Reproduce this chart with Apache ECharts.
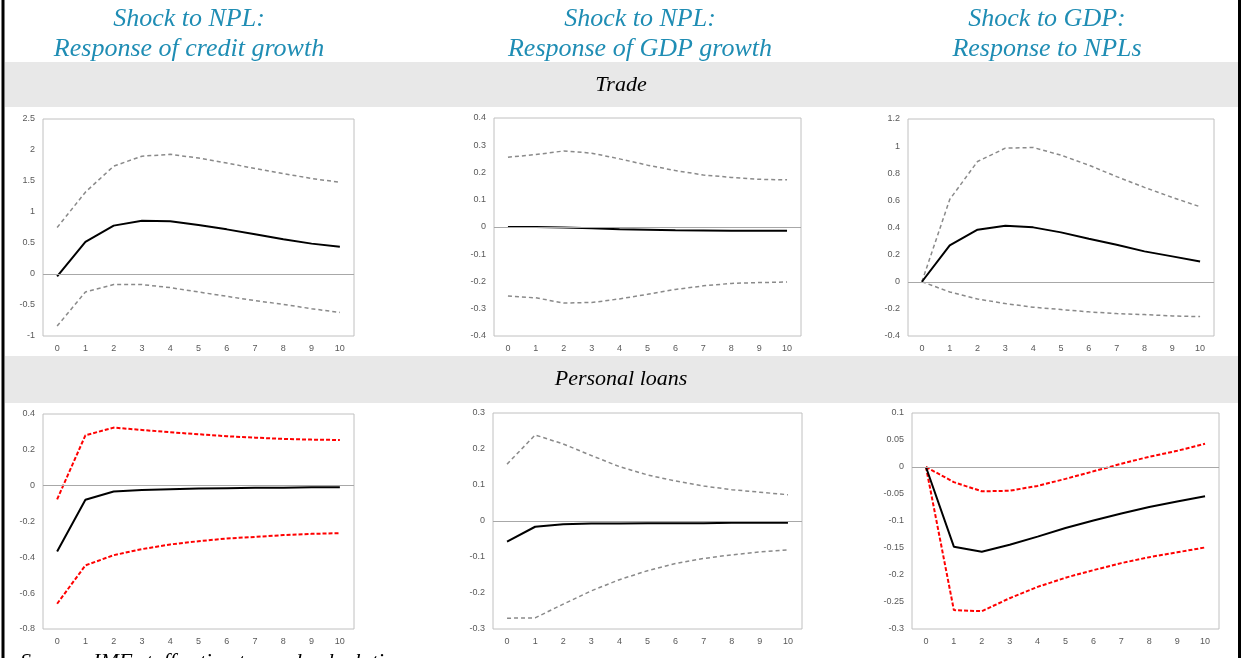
<!DOCTYPE html>
<html>
<head>
<meta charset="utf-8">
<title>Impulse responses: NPLs, credit and GDP</title>
<script src="https://cdn.jsdelivr.net/npm/echarts@6/dist/echarts.min.js"></script>
<style>
  html, body { margin: 0; padding: 0; background: #ffffff; }
  #chart { width: 1241px; height: 658px; }
</style>
</head>
<body>
<div id="chart"></div>
<script>
// Horizon (periods after the shock)
const horizon = ['0', '1', '2', '3', '4', '5', '6', '7', '8', '9', '10'];

// Column and row headings
const columnTitles = [
  ['Shock to NPL:', 'Response of credit growth'],
  ['Shock to NPL:', 'Response of GDP growth'],
  ['Shock to GDP:', 'Response to NPLs']
];
const rowTitles = ['Trade', 'Personal loans'];
const sourceNote = 'Source: IMF staff estimates and calculations.';

// Trade — shock to NPL, response of credit growth
const tradeCreditMid = [-0.04, 0.52, 0.78, 0.86, 0.85, 0.79, 0.72, 0.64, 0.56, 0.49, 0.44];
const tradeCreditUp  = [0.75, 1.32, 1.74, 1.90, 1.93, 1.87, 1.79, 1.70, 1.62, 1.54, 1.48];
const tradeCreditLo  = [-0.84, -0.29, -0.17, -0.17, -0.22, -0.29, -0.36, -0.43, -0.49, -0.56, -0.62];

// Trade — shock to NPL, response of GDP growth
const tradeGdpMid = [0.0, 0.0, -0.002, -0.005, -0.008, -0.010, -0.012, -0.013, -0.014, -0.014, -0.014];
const tradeGdpUp  = [0.256, 0.266, 0.279, 0.271, 0.250, 0.227, 0.207, 0.191, 0.182, 0.175, 0.173];
const tradeGdpLo  = [-0.253, -0.260, -0.279, -0.277, -0.264, -0.247, -0.229, -0.216, -0.207, -0.204, -0.202];

// Trade — shock to GDP, response of NPLs
const tradeNplMid = [0.0, 0.268, 0.384, 0.413, 0.401, 0.364, 0.317, 0.273, 0.224, 0.187, 0.150];
const tradeNplUp  = [0.0, 0.607, 0.887, 0.985, 0.990, 0.933, 0.860, 0.775, 0.696, 0.622, 0.553];
const tradeNplLo  = [0.0, -0.075, -0.127, -0.161, -0.188, -0.205, -0.222, -0.235, -0.242, -0.252, -0.257];

// Personal loans — shock to NPL, response of credit growth
const personalCreditMid = [-0.367, -0.079, -0.033, -0.024, -0.020, -0.016, -0.014, -0.012, -0.011, -0.009, -0.009];
const personalCreditUp  = [-0.076, 0.281, 0.324, 0.311, 0.298, 0.287, 0.276, 0.268, 0.261, 0.257, 0.255];
const personalCreditLo  = [-0.659, -0.445, -0.388, -0.354, -0.328, -0.310, -0.295, -0.286, -0.276, -0.269, -0.265];

// Personal loans — shock to NPL, response of GDP growth
const personalGdpMid = [-0.057, -0.016, -0.009, -0.007, -0.007, -0.0065, -0.006, -0.006, -0.005, -0.005, -0.005];
const personalGdpUp  = [0.158, 0.239, 0.214, 0.182, 0.151, 0.128, 0.111, 0.097, 0.087, 0.080, 0.073];
const personalGdpLo  = [-0.270, -0.269, -0.231, -0.194, -0.163, -0.138, -0.118, -0.104, -0.094, -0.086, -0.080];

// Personal loans — shock to GDP, response of NPLs
const personalNplMid = [0.0, -0.1475, -0.157, -0.144, -0.129, -0.113, -0.099, -0.086, -0.074, -0.064, -0.054];
const personalNplUp  = [0.0, -0.028, -0.045, -0.044, -0.035, -0.022, -0.008, 0.006, 0.019, 0.030, 0.043];
const personalNplLo  = [0.0, -0.265, -0.267, -0.243, -0.222, -0.205, -0.191, -0.178, -0.167, -0.158, -0.149];

// Y-axis ranges: [min, max, interval]
const yRanges = [
  [-1, 2.5, 0.5],
  [-0.4, 0.4, 0.1],
  [-0.4, 1.2, 0.2],
  [-0.8, 0.4, 0.2],
  [-0.3, 0.3, 0.1],
  [-0.3, 0.1, 0.05]
];

// Panel contents: central estimate with upper/lower bands, and band colour
const panels = [
  { mid: tradeCreditMid, up: tradeCreditUp, lo: tradeCreditLo, band: 'gray' },
  { mid: tradeGdpMid, up: tradeGdpUp, lo: tradeGdpLo, band: 'gray' },
  { mid: tradeNplMid, up: tradeNplUp, lo: tradeNplLo, band: 'gray' },
  { mid: personalCreditMid, up: personalCreditUp, lo: personalCreditLo, band: 'red' },
  { mid: personalGdpMid, up: personalGdpUp, lo: personalGdpLo, band: 'gray' },
  { mid: personalNplMid, up: personalNplUp, lo: personalNplLo, band: 'red' }
];

// Plot areas
const gridBoxes = [
  { left: 43, top: 119, width: 311, height: 217 },
  { left: 494, top: 118, width: 307, height: 218 },
  { left: 908, top: 119, width: 306, height: 217 },
  { left: 43, top: 414, width: 311, height: 215 },
  { left: 493, top: 413, width: 309, height: 216 },
  { left: 912, top: 413, width: 307, height: 216 }
];

const axisFont = { fontFamily: 'Liberation Sans', fontSize: 9, color: '#595959' };
const bandStyles = {
  gray: { color: '#8a8a8a', width: 1.5, type: [4, 3] },
  red: { color: '#ff0000', width: 2, type: [4, 2] }
};

const grids = [], xAxes = [], yAxes = [], series = [];
panels.forEach((p, i) => {
  grids.push(Object.assign({ show: true, borderColor: '#c0c0c0', borderWidth: 1, backgroundColor: '#ffffff' }, gridBoxes[i]));
  xAxes.push({
    type: 'category', gridIndex: i, data: horizon, boundaryGap: true,
    axisLine: { show: false, onZero: false }, axisTick: { show: false },
    axisLabel: Object.assign({ margin: 8, interval: 0 }, axisFont),
    splitLine: { show: false }
  });
  const r = yRanges[i];
  yAxes.push({
    type: 'value', gridIndex: i, min: r[0], max: r[1], interval: r[2],
    axisLine: { show: false }, axisTick: { show: false },
    axisLabel: Object.assign({ margin: 8 }, axisFont),
    splitLine: { show: false }
  });
  const bs = bandStyles[p.band];
  series.push({
    type: 'line', xAxisIndex: i, yAxisIndex: i, data: p.up, symbol: 'none', silent: true,
    lineStyle: bs,
    markLine: {
      silent: true, symbol: ['none', 'none'], label: { show: false },
      lineStyle: { color: '#a8a8a8', width: 1, type: 'solid' },
      data: [{ yAxis: 0 }]
    },
    z: 2
  });
  series.push({
    type: 'line', xAxisIndex: i, yAxisIndex: i, data: p.lo, symbol: 'none', silent: true,
    lineStyle: bs, z: 3
  });
  series.push({
    type: 'line', xAxisIndex: i, yAxisIndex: i, data: p.mid, symbol: 'none', silent: true,
    lineStyle: { color: '#000000', width: 2, type: 'solid' }, z: 4
  });
});

// Headings, row bands, frame and source line
const titleFont = { fontFamily: 'Liberation Serif', fontStyle: 'italic', fontSize: 26, fill: '#1f8db4' };
const colCenters = [189, 640, 1047];
const graphics = [];
graphics.push({ type: 'rect', shape: { x: 5, y: 62, width: 1233, height: 45 }, style: { fill: '#e8e8e8' }, z: 0, silent: true });
graphics.push({ type: 'rect', shape: { x: 5, y: 356, width: 1233, height: 47 }, style: { fill: '#e8e8e8' }, z: 0, silent: true });
columnTitles.forEach((lines, c) => {
  lines.forEach((t, k) => {
    graphics.push({
      type: 'text', x: colCenters[c], y: 19 + k * 30, silent: true, z: 10,
      style: Object.assign({ text: t, align: 'center', verticalAlign: 'middle' }, titleFont)
    });
  });
});
const rowLabelY = [85, 379];
rowTitles.forEach((t, k) => {
  graphics.push({
    type: 'text', x: 621, y: rowLabelY[k], silent: true, z: 10,
    style: { text: t, align: 'center', verticalAlign: 'middle', fontFamily: 'Liberation Serif', fontStyle: 'italic', fontSize: 22, fill: '#000000' }
  });
});
graphics.push({
  type: 'text', x: 20, y: 651, silent: true, z: 10,
  style: { text: sourceNote, align: 'left', verticalAlign: 'top', fontFamily: 'Liberation Serif', fontStyle: 'italic', fontSize: 22, fill: '#000000' }
});
graphics.push({ type: 'line', shape: { x1: 3, y1: 0, x2: 3, y2: 658 }, style: { stroke: '#000000', lineWidth: 3 }, z: 10, silent: true });
graphics.push({ type: 'line', shape: { x1: 1239.5, y1: 0, x2: 1239.5, y2: 658 }, style: { stroke: '#000000', lineWidth: 3 }, z: 10, silent: true });

const chart = echarts.init(document.getElementById('chart'), null, { renderer: 'canvas' });
chart.setOption({
  animation: false,
  backgroundColor: '#ffffff',
  grid: grids,
  xAxis: xAxes,
  yAxis: yAxes,
  series: series,
  graphic: graphics
});
</script>
</body>
</html>
